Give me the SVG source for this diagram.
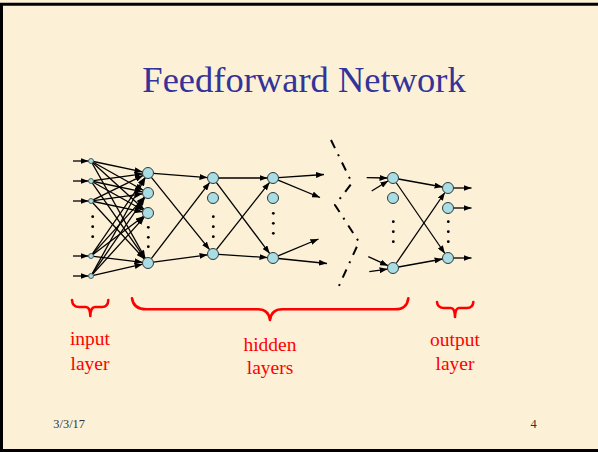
<svg xmlns="http://www.w3.org/2000/svg" width="598" height="452" viewBox="0 0 598 452">
<defs>
<marker id="ah" markerUnits="userSpaceOnUse" markerWidth="8" markerHeight="6" refX="8" refY="3" viewBox="0 0 8 6" orient="auto">
<path d="M0,0 L8,3 L0,6 z" fill="#000"/>
</marker>
<style>
.c line{stroke:#000;stroke-width:1.3;marker-end:url(#ah)}
.n{fill:#A9DCE3;stroke:#2a3a40;stroke-width:1}
.ni{fill:#A9DCE3;stroke:#2a3a40;stroke-width:0.8}
.d{fill:#000}
.lbl{font-family:"Liberation Serif","Times New Roman",serif;font-size:19.5px;fill:#FF0000;text-anchor:middle}
.brace{fill:none;stroke:#FF0000;stroke-width:2.6;stroke-linecap:round;stroke-linejoin:round}
.foot{font-family:"Liberation Serif","Times New Roman",serif;font-size:12.4px;fill:#333}
</style>
</defs>
<rect x="0" y="0" width="598" height="452" fill="#FCF0D7"/>
<path d="M1.5,452 L1.5,4.3 L598,4.3 M0,450.5 L598,450.5" fill="none" stroke="#000" stroke-width="3"/>
<text x="304" y="92" font-family="'Liberation Serif','Times New Roman',serif" font-size="36.5" fill="#333399" text-anchor="middle">Feedforward Network</text>

<g id="connectors" class="c">
<!-- inputs -->
<line x1="73" y1="161" x2="88.5" y2="161"/>
<line x1="73" y1="181" x2="88.5" y2="181"/>
<line x1="73" y1="201" x2="88.5" y2="201"/>
<line x1="73" y1="256" x2="88.5" y2="256"/>
<line x1="73" y1="276" x2="88.5" y2="276"/>
<!-- input to H1 -->
<line x1="93.4" y1="161.5" x2="142.6" y2="171.9"/>
<line x1="93.2" y1="162.2" x2="143.2" y2="190.3"/>
<line x1="92.8" y1="162.7" x2="143.9" y2="209.3"/>
<line x1="92.2" y1="163.2" x2="145.3" y2="258.2"/>
<line x1="93.5" y1="180.7" x2="142.6" y2="173.8"/>
<line x1="93.4" y1="181.5" x2="142.6" y2="191.9"/>
<line x1="93.2" y1="182.2" x2="143.2" y2="210.3"/>
<line x1="92.4" y1="183.1" x2="144.9" y2="258.5"/>
<line x1="93.2" y1="199.9" x2="143.1" y2="175.4"/>
<line x1="93.5" y1="200.7" x2="142.6" y2="193.8"/>
<line x1="93.4" y1="201.5" x2="142.6" y2="211.9"/>
<line x1="92.7" y1="202.8" x2="144.3" y2="259"/>
<line x1="92.4" y1="253.9" x2="144.9" y2="177.5"/>
<line x1="92.7" y1="254.1" x2="144.3" y2="197.1"/>
<line x1="93" y1="254.5" x2="143.6" y2="216.3"/>
<line x1="93.5" y1="256.3" x2="142.5" y2="262.3"/>
<line x1="92.2" y1="273.8" x2="145.3" y2="177.8"/>
<line x1="92.4" y1="273.9" x2="144.9" y2="197.5"/>
<line x1="92.7" y1="274.1" x2="144.3" y2="217.1"/>
<line x1="93.4" y1="275.4" x2="142.6" y2="264.2"/>
<!-- H1 to H2 -->
<line x1="153.5" y1="173.4" x2="207.5" y2="177.6"/>
<line x1="151.4" y1="177.3" x2="209.6" y2="249.7"/>
<line x1="151.3" y1="258.6" x2="209.7" y2="182.4"/>
<line x1="153.4" y1="262.2" x2="207.6" y2="254.8"/>
<!-- H2 to H3 -->
<line x1="218.5" y1="178" x2="267.5" y2="178"/>
<line x1="216.3" y1="182.4" x2="269.7" y2="253.6"/>
<line x1="216.4" y1="249.7" x2="269.6" y2="182.3"/>
<line x1="218.5" y1="254.4" x2="267.5" y2="257.6"/>
<!-- H3 out -->
<line x1="278.5" y1="177.6" x2="324" y2="174.5"/>
<line x1="278.1" y1="180.1" x2="320" y2="197.5"/>
<line x1="278.1" y1="255.9" x2="318.5" y2="239"/>
<line x1="278.5" y1="258.5" x2="327" y2="263.5"/>
<!-- into H4 -->
<line x1="366.7" y1="177.7" x2="387.5" y2="178"/>
<line x1="371.7" y1="191" x2="388.3" y2="180.8"/>
<line x1="368.3" y1="256.7" x2="388" y2="265.7"/>
<line x1="369.3" y1="271.7" x2="387.6" y2="269.1"/>
<!-- H4 to output -->
<line x1="398.4" y1="179" x2="442.6" y2="187"/>
<line x1="396.1" y1="182.5" x2="444.9" y2="253.5"/>
<line x1="396.1" y1="263.5" x2="444.9" y2="192.5"/>
<line x1="398.4" y1="267" x2="442.6" y2="259"/>
<!-- outputs -->
<line x1="453.5" y1="188" x2="471.5" y2="188"/>
<line x1="453.5" y1="208" x2="471.5" y2="208"/>
<line x1="453.5" y1="258" x2="471.5" y2="258"/>
</g>

<path id="ellipsis-cut" d="M331,140 L352,183 L335,205 L359,242 L338,288" fill="none" stroke="#000" stroke-width="2" stroke-dasharray="9 7 2 7"/>

<g id="input-layer">
<circle class="ni" cx="91" cy="161" r="2.5"/>
<circle class="ni" cx="91" cy="181" r="2.5"/>
<circle class="ni" cx="91" cy="201" r="2.5"/>
<circle class="ni" cx="91" cy="256" r="2.5"/>
<circle class="ni" cx="91" cy="276" r="2.5"/>
<circle class="d" cx="92.7" cy="216.7" r="1.4"/>
<circle class="d" cx="92.7" cy="226.7" r="1.4"/>
<circle class="d" cx="92.7" cy="236.7" r="1.4"/>
</g>
<g id="hidden-1">
<circle class="n" cx="148" cy="173" r="5.5"/>
<circle class="n" cx="148" cy="193" r="5.5"/>
<circle class="n" cx="148" cy="213" r="5.5"/>
<circle class="n" cx="148" cy="263" r="5.5"/>
<circle class="d" cx="148.3" cy="227.3" r="1.4"/>
<circle class="d" cx="148.3" cy="237.3" r="1.4"/>
<circle class="d" cx="148.3" cy="246.7" r="1.4"/>
</g>
<g id="hidden-2">
<circle class="n" cx="213" cy="178" r="5.5"/>
<circle class="n" cx="213" cy="198" r="5.5"/>
<circle class="n" cx="213" cy="254" r="5.5"/>
<circle class="d" cx="213.3" cy="216.7" r="1.4"/>
<circle class="d" cx="213.3" cy="226.7" r="1.4"/>
<circle class="d" cx="213.3" cy="236.7" r="1.4"/>
</g>
<g id="hidden-3">
<circle class="n" cx="273" cy="178" r="5.5"/>
<circle class="n" cx="273" cy="198" r="5.5"/>
<circle class="n" cx="273" cy="258" r="5.5"/>
<circle class="d" cx="273.3" cy="213.3" r="1.4"/>
<circle class="d" cx="273.3" cy="223.3" r="1.4"/>
<circle class="d" cx="273.3" cy="233.3" r="1.4"/>
</g>
<g id="hidden-4">
<circle class="n" cx="393" cy="178" r="5.5"/>
<circle class="n" cx="393" cy="198" r="5.5"/>
<circle class="n" cx="393" cy="268" r="5.5"/>
<circle class="d" cx="393.3" cy="221.7" r="1.4"/>
<circle class="d" cx="393.3" cy="231.7" r="1.4"/>
<circle class="d" cx="393.3" cy="241.7" r="1.4"/>
</g>
<g id="output-layer">
<circle class="n" cx="448" cy="188" r="5.5"/>
<circle class="n" cx="448" cy="208" r="5.5"/>
<circle class="n" cx="448" cy="258" r="5.5"/>
<circle class="d" cx="448.3" cy="221.7" r="1.4"/>
<circle class="d" cx="448.3" cy="231.7" r="1.4"/>
<circle class="d" cx="448.3" cy="241.7" r="1.4"/>
</g>

<g id="input-label">
<path class="brace" d="M72,300 Q72.5,307 79,307 L86,307 Q90,307 90.3,316 Q90.6,307 95,307 L102,307 Q108,307 108.3,300"/>
<text class="lbl" x="90" y="345">input</text>
<text class="lbl" x="90" y="370">layer</text>
</g>
<g id="hidden-label">
<path class="brace" d="M132,298.3 Q133.5,309.3 146,309.3 L258,309.3 Q268.5,309.3 270,320 Q271.5,309.3 282,309.3 L395,309.3 Q407,309.3 408.3,298.3"/>
<text class="lbl" x="270" y="351">hidden</text>
<text class="lbl" x="270" y="374">layers</text>
</g>
<g id="output-label">
<path class="brace" d="M437,302 Q437.5,308 444,308 L451,308 Q454.7,308 455,317 Q455.3,308 459,308 L467,308 Q473,308 473.3,302"/>
<text class="lbl" x="455" y="346">output</text>
<text class="lbl" x="455" y="370">layer</text>
</g>

<text class="foot" x="53.3" y="427.7">3/3/17</text>
<text class="foot" x="530.5" y="427.7">4</text>
</svg>
